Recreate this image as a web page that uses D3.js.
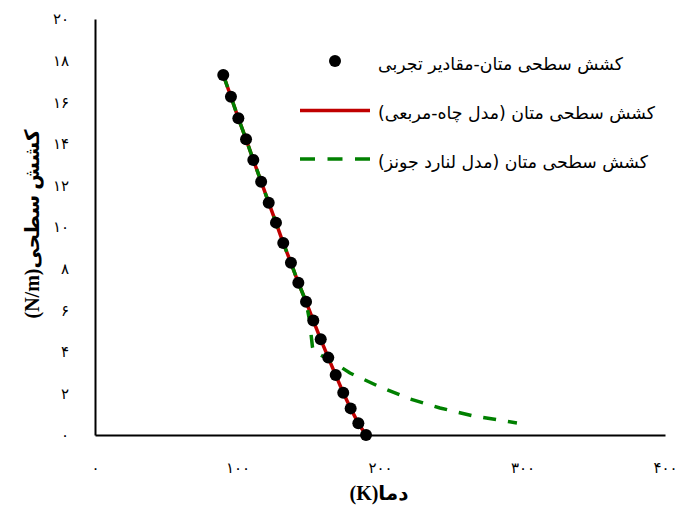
<!DOCTYPE html>
<html><head><meta charset="utf-8">
<script src="https://cdn.jsdelivr.net/npm/d3@7"></script>
<style>html,body{margin:0;padding:0;background:#fff;}svg{display:block;}</style>
</head><body>
<script>
// ---- data ----
const expTemp = [90.0, 95.4, 100.6, 106.0, 111.1, 116.6, 121.9, 127.0, 132.1, 137.5, 142.7, 148.1, 153.2, 158.4, 163.7, 168.9, 174.2, 179.4, 184.8, 190.2];
const expTension = [17.31, 16.26, 15.23, 14.22, 13.22, 12.18, 11.17, 10.21, 9.23, 8.28, 7.32, 6.41, 5.50, 4.60, 3.72, 2.88, 2.03, 1.28, 0.56, 0.0];
const swTemp = [90.0, 95.4, 100.6, 106.0, 111.1, 116.6, 121.9, 127.0, 132.1, 137.5, 142.7, 148.1, 153.2, 158.4, 163.7, 168.9, 174.2, 179.4, 184.8, 190.2];
const swTension = [17.31, 16.26, 15.23, 14.22, 13.22, 12.18, 11.17, 10.21, 9.23, 8.28, 7.32, 6.41, 5.50, 4.60, 3.72, 2.88, 2.03, 1.28, 0.56, 0.0];
const ljTemp = [90.0, 95.4, 100.6, 106.0, 111.1, 116.6, 121.9, 127.0, 132.1, 137.5, 142.7, 148.1, 150.5, 152.6, 153.3, 167.0, 178.9, 200.0, 221.1, 242.1, 266.0, 296.1];
const ljTension = [17.31, 16.26, 15.23, 14.22, 13.22, 12.18, 11.17, 10.21, 9.23, 8.28, 7.32, 6.41, 5.53, 4.23, 4.04, 3.51, 2.98, 2.31, 1.73, 1.30, 0.91, 0.58];
const xTicks = [0, 100, 200, 300, 400];
const yTicks = [0, 2, 4, 6, 8, 10, 12, 14, 16, 18, 20];
const seriesNames = ["کشش سطحی متان-مقادیر تجربی", "کشش سطحی متان (مدل چاه-مربعی)", "کشش سطحی متان (مدل لنارد جونز)"];
const xTitle = "دما(K)";
const yTitle = "کشش سطحی(N/m)";

const W = 678, H = 506;
const fa = n => String(n).replace(/\d/g, d => "۰۱۲۳۴۵۶۷۸۹"[d]);
const svg = d3.select("body").append("svg").attr("width", W).attr("height", H);

const x = d3.scaleLinear().domain([0, 400]).range([95, 665]);
const y = d3.scaleLinear().domain([0, 20]).range([435, 19]);

const tickFont = "'DejaVu Sans', sans-serif";

// axes
const gx = svg.append("g").attr("transform", `translate(0,${y(0)})`)
  .call(d3.axisBottom(x).tickValues(xTicks).tickSize(0).tickPadding(27).tickFormat(fa));
gx.select(".domain").attr("stroke", "#000").attr("stroke-width", 2);
gx.selectAll("text").attr("font-family", tickFont).attr("font-size", 15).attr("fill", "#000");

const gy = svg.append("g").attr("transform", `translate(${x(0)},0)`)
  .call(d3.axisLeft(y).tickValues(yTicks).tickSize(0).tickPadding(26).tickFormat(fa));
gy.select(".domain").attr("stroke", "#000").attr("stroke-width", 2);
gy.selectAll("text").attr("font-family", tickFont).attr("font-size", 15).attr("fill", "#000");

// series
const line = d3.line().x(d => x(d[0])).y(d => y(d[1]));
svg.append("path").datum(d3.zip(swTemp, swTension)).attr("d", line)
  .attr("fill", "none").attr("stroke", "#c00000").attr("stroke-width", 3.5);
svg.append("path").datum(d3.zip(ljTemp, ljTension)).attr("d", line)
  .attr("fill", "none").attr("stroke", "#008000").attr("stroke-width", 3.5)
  .attr("stroke-dasharray", "13,12");
svg.append("g").selectAll("circle").data(d3.zip(expTemp, expTension)).join("circle")
  .attr("cx", d => x(d[0])).attr("cy", d => y(d[1])).attr("r", 6).attr("fill", "#000");

// legend
const lg = svg.append("g");
lg.append("circle").attr("cx", 335).attr("cy", 61).attr("r", 6).attr("fill", "#000");
lg.append("line").attr("x1", 300).attr("x2", 370).attr("y1", 110.5).attr("y2", 110.5)
  .attr("stroke", "#c00000").attr("stroke-width", 3.5);
lg.append("line").attr("x1", 300).attr("x2", 370).attr("y1", 159).attr("y2", 159)
  .attr("stroke", "#008000").attr("stroke-width", 3.5).attr("stroke-dasharray", "15,12.5");
const legY = [70, 119, 168];
const legW = [245, 277, 270];
seriesNames.forEach((s, i) => {
  lg.append("text").attr("x", 378 + legW[i]).attr("y", legY[i])
    .attr("direction", "rtl").attr("text-anchor", "start")
    .attr("font-family", tickFont).attr("font-size", 17.5).attr("fill", "#000")
    .attr("textLength", legW[i]).attr("lengthAdjust", "spacingAndGlyphs")
    .text(s);
});

// axis titles
svg.append("text").attr("x", 379).attr("y", 500).attr("text-anchor", "middle")
  .attr("direction", "rtl").attr("font-family", "'Liberation Serif', 'DejaVu Sans', serif")
  .attr("font-weight", "bold").attr("font-size", 20).attr("fill", "#000").text(xTitle);
svg.append("text").attr("transform", "translate(39,224) rotate(-90)").attr("text-anchor", "middle")
  .attr("direction", "rtl").attr("font-family", "'Liberation Serif', 'DejaVu Sans', serif")
  .attr("font-weight", "bold").attr("font-size", 20).attr("fill", "#000").text(yTitle);
</script>
</body></html>
